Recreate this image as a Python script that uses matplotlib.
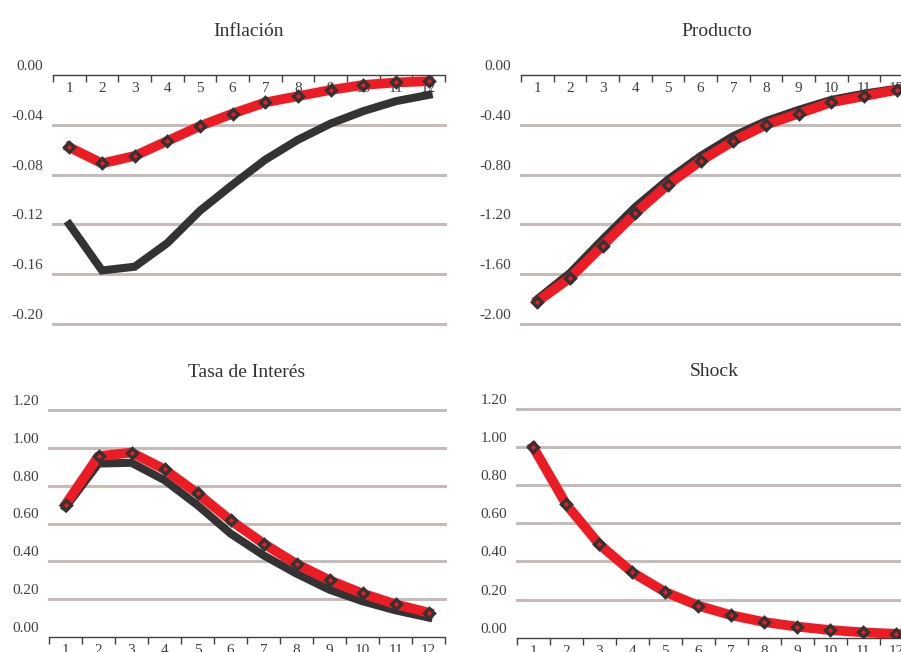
import numpy as np
import matplotlib
matplotlib.use('Agg')
import matplotlib.pyplot as plt
import matplotlib.transforms as mtransforms

# periods
periodos = list(range(1, 13))

# Inflacion
infl_rojo = [-0.058, -0.071, -0.065, -0.053, -0.041, -0.031, -0.022, -0.017, -0.012, -0.008, -0.006, -0.005]
infl_negro = [-0.120, -0.157, -0.154, -0.135, -0.109, -0.088, -0.068, -0.052, -0.039, -0.029, -0.021, -0.016]

# Producto
prod_rojo = [-1.82, -1.63, -1.37, -1.11, -0.88, -0.69, -0.53, -0.40, -0.31, -0.22, -0.17, -0.12]
prod_negro = [-1.80, -1.59, -1.32, -1.06, -0.84, -0.65, -0.49, -0.37, -0.28, -0.20, -0.15, -0.11]

# Tasa de interes
tasa_rojo = [0.70, 0.956, 0.975, 0.886, 0.759, 0.617, 0.494, 0.386, 0.300, 0.230, 0.173, 0.129]
tasa_negro = [0.685, 0.917, 0.921, 0.829, 0.697, 0.547, 0.432, 0.335, 0.250, 0.189, 0.141, 0.103]

# Shock
shock_rojo = [1.00, 0.70, 0.49, 0.343, 0.240, 0.168, 0.118, 0.082, 0.058, 0.040, 0.028, 0.020]
shock_negro = [1.00, 0.70, 0.49, 0.343, 0.240, 0.168, 0.118, 0.082, 0.058, 0.040, 0.028, 0.020]

rojo = '#ed1c24'
negro = '#333333'
gris = '#c4bcb8'
texto = '#404040'

plt.rcParams['font.family'] = ['Liberation Serif', 'DejaVu Serif']

fig = plt.figure(figsize=(9.01, 6.52), dpi=100)

paneles = [
    # title, red, black, ylim, yticks, position, axis on top
    ('Inflación', infl_rojo, infl_negro, (-0.20, 0.0), [-0.20, -0.16, -0.12, -0.08, -0.04, 0.00],
     [53/901, 1-324/652, 392/901, 249/652], True),
    ('Producto', prod_rojo, prod_negro, (-2.0, 0.0), [-2.0, -1.6, -1.2, -0.8, -0.4, 0.0],
     [521/901, 1-324/652, 392/901, 249/652], True),
    ('Tasa de Interés', tasa_rojo, tasa_negro, (0.0, 1.2), [0.0, 0.2, 0.4, 0.6, 0.8, 1.0, 1.2],
     [49/901, 1-637/652, 396/901, 227/652], False),
    ('Shock', shock_rojo, shock_negro, (0.0, 1.2), [0.0, 0.2, 0.4, 0.6, 0.8, 1.0, 1.2],
     [516.7/901, 1-637.7/652, 396/901, 228.7/652], False),
]

offset = mtransforms.ScaledTranslation(0, 0.10, fig.dpi_scale_trans)

for titulo, yr, yn, ylim, yticks, pos, arriba in paneles:
    ax = fig.add_axes(pos)
    x = np.array(periodos)
    ax.plot(x, yn, color=negro, lw=5.8, zorder=3, solid_joinstyle='miter')
    ax.plot(x, yr, color=rojo, lw=7.0, zorder=4, marker='D', markersize=5.5,
            markerfacecolor=rojo, markeredgecolor=negro, markeredgewidth=2.4)
    ax.set_xlim(0.5, 12.5)
    ax.set_ylim(*ylim)
    for v in yticks:
        if v != 0:
            ax.axhline(v, color=gris, lw=2.2, zorder=1, clip_on=False)
    for s in ['left', 'right', 'top']:
        ax.spines[s].set_visible(False)
    ax.spines['bottom'].set_position(('data', 0))
    ax.spines['bottom'].set_color(texto)
    ax.spines['bottom'].set_linewidth(1.0)
    ax.spines['bottom'].set_zorder(2)
    ax.set_xticks(np.arange(0.5, 13.0, 1.0))
    ax.set_xticklabels([])
    ax.set_xticks(x, minor=True)
    ax.set_xticklabels([str(p) for p in periodos], minor=True)
    ax.tick_params(axis='x', which='major', direction='out', length=5, width=1, color=texto)
    ax.tick_params(axis='x', which='minor', length=0, pad=5, labelsize=11, labelcolor=texto)
    ax.set_yticks(yticks)
    ax.set_yticklabels(['%.2f' % v for v in yticks])
    ax.tick_params(axis='y', length=0, pad=7, labelsize=11, labelcolor=texto)
    for lab in ax.get_yticklabels():
        lab.set_transform(lab.get_transform() + offset)
    ax.set_facecolor('none')
    ax.set_title(titulo, fontsize=14, color='#333333', pad=28 if arriba else 24)

fig.savefig('out.png', dpi=100)
